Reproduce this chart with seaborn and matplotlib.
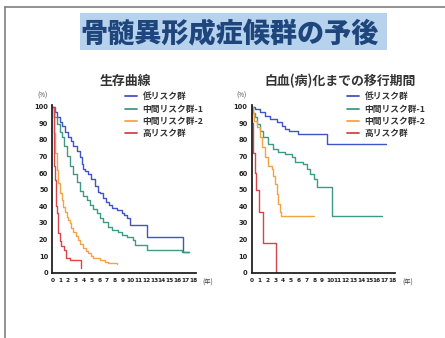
import matplotlib
matplotlib.use("Agg")
import matplotlib.pyplot as plt
from matplotlib.lines import Line2D
from matplotlib.patches import Rectangle
import seaborn as sns
import pandas as pd

sns.set_theme(style="white")
plt.rcParams["font.family"] = ["Noto Sans CJK JP", "DejaVu Sans"]

# --- data -------------------------------------------------------------------
groups = ["低リスク群", "中間リスク群-1", "中間リスク群-2", "高リスク群"]
colors = ["#3f55c6", "#3f9a82", "#f2a445", "#d9434b"]
x_ticks = list(range(0, 19))
y_ticks = list(range(0, 101, 10))

# overall survival (years, %)
os_low_t = [0, 0.34, 0.64, 0.98, 1.19, 1.6, 2.04, 2.34, 2.68, 3.1, 3.6, 3.83, 3.96, 4.17,
            4.6, 5.0, 5.45, 5.87, 6.1, 6.5, 6.9, 7.3, 7.6, 8.2, 8.85, 9.2, 9.5, 9.9, 12.04, 16.7, 17.4]
os_low_s = [100, 96.6, 93.6, 90.6, 88.6, 84.5, 81.5, 79.5, 76.5, 73.5, 69.5, 65.5, 62.5, 61.5,
            59.4, 56.4, 52.4, 48.4, 47.8, 45, 42.8, 40.5, 38.8, 37.8, 35.7, 34.5, 32.7, 28.7, 21.7, 12.5, 12.5]
os_int1_t = [0, 0.21, 0.55, 0.98, 1.19, 1.49, 1.83, 2.25, 2.68, 3.1, 3.53, 3.96, 4.4, 4.8, 5.2,
             5.66, 6.1, 6.5, 7.15, 7.6, 8.4, 8.85, 9.5, 10.3, 10.6, 12.04, 16.5, 17.4]
os_int1_s = [100, 93.6, 89.6, 84.5, 81.5, 76.5, 70.5, 64.5, 59.4, 54.4, 49.4, 46.5, 43.5, 40.8, 38.2,
             35.7, 33.2, 30.7, 27.7, 25.7, 24.7, 22.7, 21.7, 19.7, 16.7, 13.7, 12.3, 12.3]
os_int2_t = [0, 0.17, 0.4, 0.55, 0.75, 0.98, 1.2, 1.4, 1.6, 1.83, 2.05, 2.25, 2.45, 2.68, 3.0,
             3.3, 3.6, 3.96, 4.3, 4.6, 4.9, 5.2, 6.1, 6.7, 7.15, 8.2]
os_int2_s = [100, 84, 72, 62, 54, 47.8, 43.5, 39.8, 36.5, 33.7, 31.5, 29.7, 27, 24.7, 22,
             19.7, 17, 14.7, 13, 11.6, 10, 8.6, 7.6, 6.6, 5.6, 5.2]
os_high_t = [0, 0.17, 0.3, 0.45, 0.6, 0.75, 0.95, 1.15, 1.5, 1.8, 2.2, 3.65]
os_high_s = [100, 64, 56, 40, 36, 24, 19, 16, 13.7, 8.6, 7.6, 2.6]

# time to leukemic transformation (years, %)
lt_low_t = [0, 0.43, 1.06, 1.7, 2.34, 3.2, 3.83, 4.25, 4.7, 5.96, 9.6, 17.2]
lt_low_s = [100, 98.6, 96.6, 94.6, 92.6, 90.6, 88.6, 86.5, 85.5, 83.5, 77.5, 77.5]
lt_int1_t = [0, 0.2, 0.43, 0.64, 1.06, 1.5, 2.1, 2.77, 3.4, 4.25, 5.1, 5.5, 6.6, 7.0, 7.45,
             7.9, 8.3, 10.2, 16.6]
lt_int1_s = [100, 96, 93.6, 89.6, 85.5, 81.5, 77.5, 74.5, 72.5, 71.5, 69.5, 66.5, 65.5, 62.5, 59.4,
             56.4, 51.4, 34.3, 34.3]
lt_int2_t = [0, 0.15, 0.3, 0.64, 1.06, 1.28, 1.7, 2.1, 2.55, 2.77, 3.0, 3.2, 3.4, 3.6, 3.7, 7.9]
lt_int2_s = [100, 96, 91.6, 87.6, 81.5, 75.5, 69.5, 64.5, 62.5, 58.4, 53.4, 47.4, 41.4, 36.3, 34.3, 34.3]
lt_high_t = [0, 0.1, 0.17, 0.38, 0.6, 0.95, 1.5, 3.12]
lt_high_s = [100, 90, 72, 60, 50, 36.3, 18, 0]


def to_frame(times, surv):
    rows = []
    for g, t, s in zip(groups, times, surv):
        rows += [{"group": g, "year": a, "pct": b} for a, b in zip(t, s)]
    return pd.DataFrame(rows)


os_df = to_frame([os_low_t, os_int1_t, os_int2_t, os_high_t],
                 [os_low_s, os_int1_s, os_int2_s, os_high_s])
lt_df = to_frame([lt_low_t, lt_int1_t, lt_int2_t, lt_high_t],
                 [lt_low_s, lt_int1_s, lt_int2_s, lt_high_s])

# --- figure -----------------------------------------------------------------
W, H = 445, 338
fig = plt.figure(figsize=(W / 100, H / 100), dpi=100)
fig.patch.set_facecolor("white")

# slide frame
fig.add_artist(Line2D([5 / W, 1], [1 - 7 / H, 1 - 7 / H], color="#7f7f7f", lw=1.2))
fig.add_artist(Line2D([5 / W, 5 / W], [0, 1 - 7 / H], color="#7f7f7f", lw=1.2))

# heading
fig.add_artist(Rectangle((80 / W, 1 - 50 / H), 307 / W, 37 / H,
                         facecolor="#b6d2ec", edgecolor="none"))
fig.text(230 / W, 1 - 33 / H, "骨髄異形成症候群の予後", ha="center", va="center",
         fontsize=19.5, fontweight="heavy", color="#1f467c")

pal = dict(zip(groups, colors))
tick_font = ["DejaVu Sans Condensed", "DejaVu Sans"]


def panel(left, df, title, title_x, legend_x):
    ax = fig.add_axes([left / W, 1 - 272.7 / H, 143.3 / W, 168 / H])
    sns.lineplot(data=df, x="year", y="pct", hue="group", hue_order=groups,
                 palette=pal, drawstyle="steps-post", estimator=None,
                 linewidth=1.0, legend=False, ax=ax)
    ax.set_xlim(0, 18.3)
    ax.set_ylim(0, 101.2)
    ax.set_xticks(x_ticks)
    ax.set_yticks(y_ticks)
    ax.set_xticklabels([str(v) for v in x_ticks], fontsize=4.2, fontweight="bold",
                       family=tick_font)
    ax.set_yticklabels([str(v) for v in y_ticks], fontsize=4.8, fontweight="bold",
                       family=tick_font)
    ax.tick_params(axis="both", length=2, width=0.8, pad=1, color="#222222",
                   labelcolor="#222222", direction="out")
    ax.tick_params(axis="x", pad=1.5)
    ax.set_xlabel("")
    ax.set_ylabel("")
    for side in ("top", "right"):
        ax.spines[side].set_visible(False)
    for side in ("left", "bottom"):
        ax.spines[side].set_color("#222222")
        ax.spines[side].set_linewidth(1.3)
    ax.patch.set_alpha(0)
    ax.text(-0.6, 104, "(%)", fontsize=4.5, color="#444444", ha="right", va="bottom",
            clip_on=False)
    ax.text(19.2, -3.8, "(年)", fontsize=4.5, color="#444444", ha="left", va="top",
            clip_on=False)
    fig.text(title_x / W, 1 - 81 / H, title, ha="center", va="center",
             fontsize=9.3, fontweight="bold", color="#333333")
    handles = [Line2D([], [], color=c, lw=1.3) for c in colors]
    leg = ax.legend(handles, groups, loc="upper left",
                    bbox_to_anchor=(legend_x / W, 1 - 92.5 / H),
                    bbox_transform=fig.transFigure, frameon=False,
                    fontsize=6.3, handlelength=1.4, handletextpad=0.6,
                    labelspacing=0.36, borderpad=0, borderaxespad=0)
    for t in leg.get_texts():
        t.set_fontweight("bold")
        t.set_color("#333333")
    return ax


panel(52.3, os_df, "生存曲線", 125, 125)
panel(251.7, lt_df, "白血(病)化までの移行期間", 340, 347)

fig.savefig("out.png", dpi=100, facecolor="white")
